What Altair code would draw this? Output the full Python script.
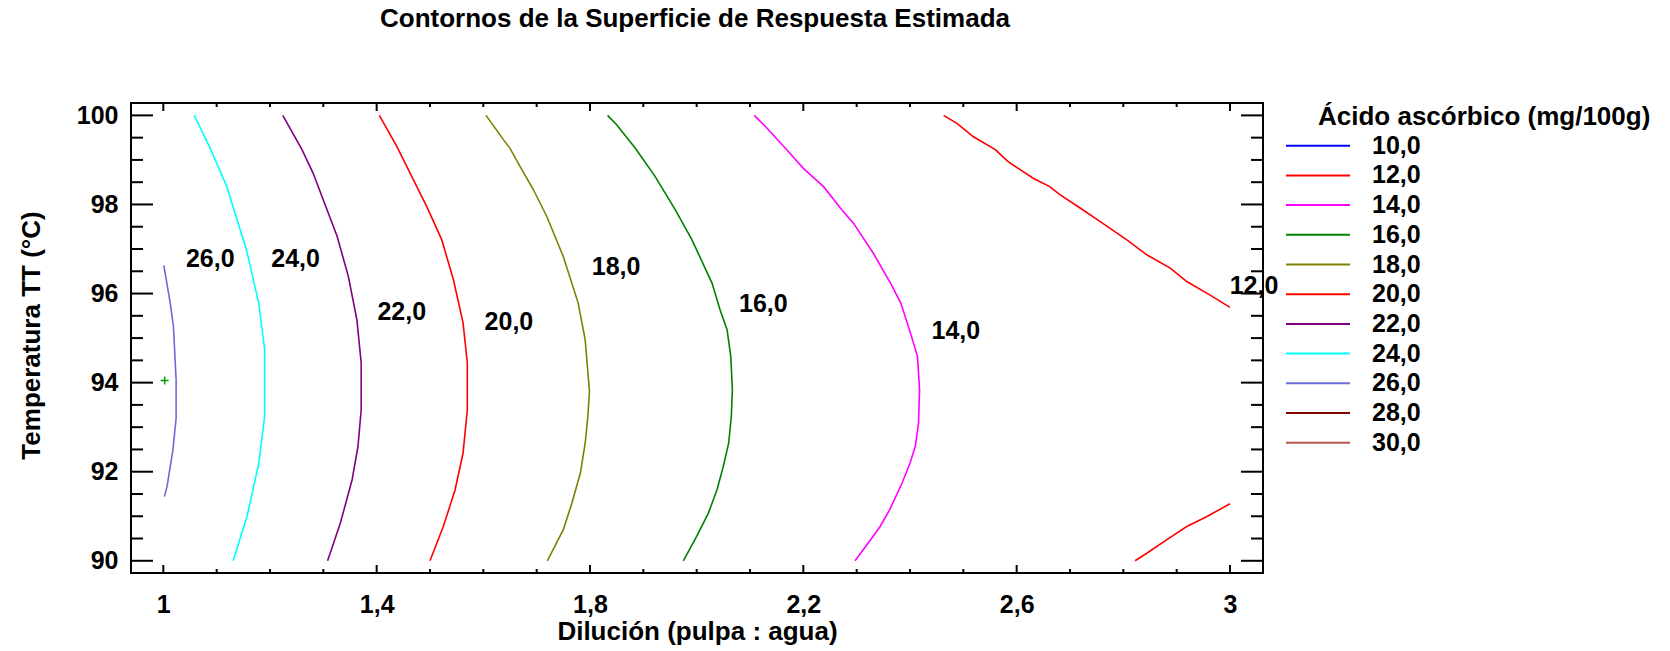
import altair as alt
import pandas as pd

FONT = "Liberation Sans"
FS = 25

# ---- contour levels and line colours (legend order) ----
levels = ["10,0", "12,0", "14,0", "16,0", "18,0", "20,0",
          "22,0", "24,0", "26,0", "28,0", "30,0"]
level_colors = ["#0000FF", "#FF0000", "#FF00FF", "#008000", "#808000", "#FF0000",
                "#800080", "#00FFFF", "#6B6BDB", "#800000", "#B0554A"]

# ---- contour traces: dilution (x) and temperature (y), top to bottom ----
c26_d = [1.001, 1.013, 1.019, 1.024, 1.024, 1.018, 1.007, 1.002]
c26_t = [96.63, 95.78, 95.26, 94.06, 93.20, 92.49, 91.67, 91.44]

c24_d = [1.058, 1.088, 1.119, 1.156, 1.179, 1.190, 1.190, 1.179, 1.157, 1.131]
c24_t = [100.0, 99.26, 98.40, 96.98, 95.78, 94.74, 93.24, 92.19, 91.00, 90.0]

c22_d = [1.224, 1.260, 1.281, 1.300, 1.326, 1.347, 1.363, 1.371, 1.371, 1.365,
         1.354, 1.332, 1.308]
c22_t = [100.0, 99.23, 98.70, 98.10, 97.28, 96.38, 95.41, 94.44, 93.39, 92.57,
         91.82, 90.85, 90.0]

c20_d = [1.405, 1.438, 1.469, 1.494, 1.522, 1.544, 1.562, 1.570, 1.570, 1.562,
         1.547, 1.525, 1.500]
c20_t = [100.0, 99.30, 98.55, 97.95, 97.21, 96.31, 95.34, 94.44, 93.39, 92.42,
         91.59, 90.77, 90.0]

c18_d = [1.605, 1.638, 1.650, 1.669, 1.694, 1.719, 1.750, 1.778, 1.791, 1.799,
         1.796, 1.791, 1.782, 1.766, 1.750, 1.720]
c18_t = [100.0, 99.45, 99.26, 98.85, 98.33, 97.73, 96.83, 95.78, 94.96, 93.80,
         93.24, 92.64, 91.97, 91.29, 90.70, 90.0]

c16_d = [1.833, 1.850, 1.885, 1.922, 1.960, 1.991, 2.029, 2.044, 2.057, 2.064,
         2.067, 2.065, 2.060, 2.050, 2.038, 2.022, 2.000, 1.975]
c16_t = [100.0, 99.79, 99.26, 98.63, 97.88, 97.21, 96.23, 95.63, 95.19, 94.59,
         93.84, 93.24, 92.64, 92.12, 91.59, 91.07, 90.55, 90.0]

c14_d = [2.108, 2.132, 2.169, 2.200, 2.238, 2.272, 2.294, 2.331, 2.365, 2.383,
         2.400, 2.414, 2.418, 2.416, 2.410, 2.400, 2.385, 2.362, 2.344, 2.331, 2.297]
c14_t = [100.0, 99.71, 99.23, 98.81, 98.40, 97.88, 97.58, 96.91, 96.20, 95.78,
         95.15, 94.59, 93.84, 93.09, 92.57, 92.19, 91.74, 91.15, 90.77, 90.55, 90.0]

c12a_d = [2.463, 2.488, 2.519, 2.560, 2.584, 2.631, 2.662, 2.681, 2.719, 2.756,
          2.806, 2.844, 2.888, 2.919, 2.962, 3.000]
c12a_t = [100.0, 99.82, 99.52, 99.23, 98.96, 98.59, 98.40, 98.22, 97.92, 97.62,
          97.21, 96.87, 96.57, 96.27, 95.97, 95.69]

c12b_d = [2.822, 2.844, 2.881, 2.919, 2.956, 3.000]
c12b_t = [90.0, 90.17, 90.47, 90.77, 90.99, 91.28]

# ---- in-plot contour labels ----
label_text = ["26,0", "24,0", "22,0", "20,0", "18,0", "16,0", "14,0", "12,0"]
label_d = [1.088, 1.248, 1.447, 1.648, 1.849, 2.125, 2.486, 3.045]
label_t = [96.78, 96.78, 95.59, 95.35, 96.59, 95.76, 95.17, 96.18]

# ---- design centre marker ----
center_d = [1.0025]
center_t = [94.05]

# ---- axis ticks ----
x_major = [1.0, 1.4, 1.8, 2.2, 2.6, 3.0]
x_minor = [1.1, 1.2, 1.3, 1.5, 1.6, 1.7, 1.9, 2.0, 2.1, 2.3, 2.4, 2.5, 2.7, 2.8, 2.9]
y_major = [90, 92, 94, 96, 98, 100]
y_minor = [90.5, 91, 91.5, 92.5, 93, 93.5, 94.5, 95, 95.5, 96.5, 97, 97.5,
           98.5, 99, 99.5]

W, H = 1132, 470
XDOM = [0.9394, 3.0619]
YDOM = [89.726, 100.278]

traces = [
    ("26,0", "26", c26_d, c26_t),
    ("24,0", "24", c24_d, c24_t),
    ("22,0", "22", c22_d, c22_t),
    ("20,0", "20", c20_d, c20_t),
    ("18,0", "18", c18_d, c18_t),
    ("16,0", "16", c16_d, c16_t),
    ("14,0", "14", c14_d, c14_t),
    ("12,0", "12a", c12a_d, c12a_t),
    ("12,0", "12b", c12b_d, c12b_t),
]
rows = []
for lvl, seg, ds, ts in traces:
    for i, (d, t) in enumerate(zip(ds, ts)):
        rows.append({"nivel": lvl, "tramo": seg, "i": i, "D": d, "T": t})
contours = pd.DataFrame(rows)

color_scale = alt.Scale(domain=levels, range=level_colors)

x_axis = alt.Axis(
    values=x_major, labelExpr="replace(toString(datum.value), '.', ',')",
    ticks=False, tickSize=0, domain=False, grid=False,
    labelFont=FONT, labelFontSize=FS, labelFontWeight="bold", labelColor="black",
    labelBaseline="alphabetic", labelPadding=39, labelFlush=False, labelOverlap=False,
    title="Dilución (pulpa : agua)", titleFont=FONT, titleFontSize=26,
    titleFontWeight="bold", titleColor="black", titleBaseline="alphabetic",
    titleX=W / 2, titleY=66, titleAlign="center",
)
y_axis = alt.Axis(
    values=y_major, format="d",
    ticks=False, tickSize=0, domain=False, grid=False,
    labelFont=FONT, labelFontSize=FS, labelFontWeight="bold", labelColor="black",
    labelPadding=13, labelFlush=False, labelOverlap=False,
    title="Temperatura TT (°C)", titleFont=FONT, titleFontSize=26,
    titleFontWeight="bold", titleColor="black", titleBaseline="alphabetic",
    titleX=-92, titleY=H / 2 - 3, titleAlign="center",
)


def X(field):
    return alt.X(field, scale=alt.Scale(domain=XDOM, nice=False, zero=False), axis=x_axis)


def Y(field):
    return alt.Y(field, scale=alt.Scale(domain=YDOM, nice=False, zero=False), axis=y_axis)


lines = alt.Chart(contours).mark_line(strokeWidth=1.6).encode(
    x=X("D:Q"),
    y=Y("T:Q"),
    color=alt.Color("nivel:N", scale=color_scale, legend=None),
    detail="tramo:N",
    order="i:Q",
)

labels = alt.Chart(pd.DataFrame({"txt": label_text, "D": label_d, "T": label_t})).mark_text(
    font=FONT, fontSize=FS, fontWeight="bold", color="black", baseline="middle", align="center"
).encode(
    x=X("D:Q"),
    y=Y("T:Q"),
    text="txt:N",
)

center = alt.Chart(pd.DataFrame({"D": center_d, "T": center_t})).mark_point(
    shape="M-1,0L1,0M0,-1L0,1", size=64, filled=False, stroke="#009900", strokeWidth=1.5,
    opacity=1,
).encode(
    x=X("D:Q"),
    y=Y("T:Q"),
)


def xticks(vals, length, top):
    base = 0 if top else H
    tip = length if top else H - length
    return alt.Chart(pd.DataFrame({"D": vals})).mark_rule(color="black", strokeWidth=2).encode(
        x=X("D:Q"),
        y=alt.value(base), y2=alt.value(tip),
    )


def yticks(vals, length, right):
    base = W if right else 0
    tip = W - length if right else length
    return alt.Chart(pd.DataFrame({"T": vals})).mark_rule(color="black", strokeWidth=2).encode(
        y=Y("T:Q"),
        x=alt.value(base), x2=alt.value(tip),
    )


tick_layers = [
    xticks(x_major, 8, False), xticks(x_minor, 4, False),
    xticks(x_major, 8, True), xticks(x_minor, 4, True),
    yticks(y_major, 22, False), yticks(y_minor, 12, False),
    yticks(y_major, 22, True), yticks(y_minor, 12, True),
]

plot = alt.layer(lines, labels, center, *tick_layers)

# ---- legend drawn beside the plot ----
legend_df = pd.DataFrame({"nivel": levels, "fila": list(range(len(levels)))})
row_scale = alt.Scale(domain=[0, len(levels) - 1], range=[42.7, 339.7], nice=False, zero=False)

legend_lines = alt.Chart(legend_df).mark_rule(strokeWidth=2).encode(
    x=alt.value(1155), x2=alt.value(1219),
    y=alt.Y("fila:Q", scale=row_scale, axis=None),
    color=alt.Color("nivel:N", scale=color_scale, legend=None),
)
legend_text = alt.Chart(legend_df).mark_text(
    font=FONT, fontSize=FS, fontWeight="bold", color="black", align="left", baseline="middle"
).encode(
    x=alt.value(1241),
    y=alt.Y("fila:Q", scale=row_scale, axis=None),
    text="nivel:N",
)
legend = alt.layer(legend_lines, legend_text)

one = pd.DataFrame({"k": [0]})
legend_title = alt.Chart(one).mark_text(
    text="Ácido ascórbico (mg/100g)", font=FONT, fontSize=26, fontWeight="bold",
    color="black", align="left", baseline="alphabetic",
).encode(x=alt.value(1187), y=alt.value(22))

main_title = alt.Chart(one).mark_text(
    text="Contornos de la Superficie de Respuesta Estimada", font=FONT, fontSize=26,
    fontWeight="bold", color="black", align="center", baseline="alphabetic",
).encode(x=alt.value(W / 2 - 2), y=alt.value(-76))

chart = alt.layer(plot, legend, legend_title, main_title).resolve_scale(
    y="independent"
).properties(
    width=W, height=H,
    autosize=alt.AutoSizeParams(type="none"),
    padding={"left": 131, "top": 103, "right": 1670 - 131 - W, "bottom": 651 - 103 - H},
    background="white",
).configure_view(stroke="black", strokeWidth=2)

chart.save("out.html", embed_options={"renderer": "svg", "actions": False})
